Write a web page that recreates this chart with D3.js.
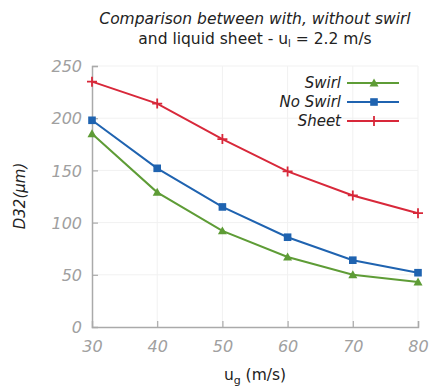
<!DOCTYPE html>
<html>
<head>
<meta charset="utf-8">
<script src="https://cdn.jsdelivr.net/npm/d3@7"></script>
<style>
  html, body { margin: 0; padding: 0; background: #fff; }
  svg { display: block; font-family: "DejaVu Sans", sans-serif; }
</style>
</head>
<body>
<svg id="chart" width="430" height="392"></svg>
<script>
// Gas velocity (m/s) on the x axis
const ugValues = [30, 40, 50, 60, 70, 80];
// Sauter mean diameter D32 (µm) per configuration
const swirl   = [185, 129, 92, 67, 50, 43];
const noSwirl = [198, 152, 115, 86, 64, 52];
const sheet   = [235, 214, 180, 149, 126, 109];
const xTicks = [30, 40, 50, 60, 70, 80];
const yTicks = [0, 50, 100, 150, 200, 250];

const seriesNames = ["Swirl", "No Swirl", "Sheet"];
const seriesColors = ["#5e9c36", "#1f63b0", "#d8283a"];
const seriesMarkers = ["triangle", "square", "plus"];
const seriesValues = [swirl, noSwirl, sheet];

const svg = d3.select("#chart");
const margin = { left: 92, right: 12, top: 66, bottom: 65 };
const W = 430, H = 392;

const x = d3.scaleLinear().domain([30, 80]).range([margin.left, W - margin.right]);
const y = d3.scaleLinear().domain([0, 250]).range([H - margin.bottom, margin.top]);

// faint grid
const grid = svg.append("g").attr("stroke", "#f1f1f1").attr("stroke-width", 1);
xTicks.slice(1).forEach(t => grid.append("line")
  .attr("x1", x(t)).attr("x2", x(t)).attr("y1", y(0)).attr("y2", y(250)));
yTicks.slice(1).forEach(t => grid.append("line")
  .attr("x1", x(30)).attr("x2", x(80)).attr("y1", y(t)).attr("y2", y(t)));

// axes with inward ticks
const axisColor = "#aaaaaa";
const xAxis = svg.append("g").attr("transform", `translate(0,${y(0)})`)
  .call(d3.axisBottom(x).tickValues(xTicks).tickSize(-6).tickPadding(14).tickFormat(d3.format("d")));
const yAxis = svg.append("g").attr("transform", `translate(${x(30)},0)`)
  .call(d3.axisLeft(y).tickValues(yTicks).tickSize(-6).tickPadding(10).tickFormat(d3.format("d")));
[xAxis, yAxis].forEach(a => {
  a.select(".domain").attr("stroke", axisColor).attr("stroke-width", 1.5);
  a.selectAll(".tick line").attr("stroke", axisColor).attr("stroke-width", 1.2);
  a.selectAll(".tick text").attr("fill", "#a0a0a0").attr("font-size", 16)
    .attr("font-style", "italic").attr("font-family", "DejaVu Sans, sans-serif");
});
xAxis.select(".tick:first-of-type line").remove();
yAxis.select(".tick:first-of-type line").remove();
yAxis.selectAll(".tick text").attr("dy", "0.35em");

// marker drawing
function drawMarker(g, type, cx, cy, color) {
  if (type === "triangle") {
    const s = 4.5;
    g.append("path").attr("d", `M${cx},${cy - s}L${cx + s},${cy + s * 0.75}L${cx - s},${cy + s * 0.75}Z`)
      .attr("fill", color);
  } else if (type === "square") {
    g.append("rect").attr("x", cx - 3.8).attr("y", cy - 3.8).attr("width", 7.6).attr("height", 7.6)
      .attr("fill", color);
  } else {
    g.append("path").attr("d", `M${cx - 5},${cy}H${cx + 5}M${cx},${cy - 5}V${cy + 5}`)
      .attr("stroke", color).attr("stroke-width", 1.8);
  }
}

const line = d3.line().x((d, i) => x(ugValues[i])).y(d => y(d));
seriesValues.forEach((vals, k) => {
  const g = svg.append("g");
  g.append("path").datum(vals).attr("d", line).attr("fill", "none")
    .attr("stroke", seriesColors[k]).attr("stroke-width", 2);
  vals.forEach((v, i) => drawMarker(g, seriesMarkers[k], x(ugValues[i]), y(v), seriesColors[k]));
});

// legend
const legend = svg.append("g");
seriesNames.forEach((name, k) => {
  const ly = 83 + k * 19;
  legend.append("text").attr("x", 341).attr("y", ly).attr("dy", "0.35em")
    .attr("text-anchor", "end").attr("font-size", 15).attr("font-style", "italic")
    .attr("fill", "#222").text(name);
  legend.append("line").attr("x1", 347).attr("x2", 399).attr("y1", ly).attr("y2", ly)
    .attr("stroke", seriesColors[k]).attr("stroke-width", 2);
  drawMarker(legend, seriesMarkers[k], 374, ly, seriesColors[k]);
});

// title
const title = svg.append("text").attr("x", 255).attr("text-anchor", "middle")
  .attr("font-size", 15.5).attr("fill", "#222");
title.append("tspan").attr("x", 255).attr("y", 24).attr("font-style", "italic")
  .text("Comparison between with, without swirl");
const t2 = title.append("tspan").attr("x", 255).attr("y", 44).text("and liquid sheet - u");
t2.append("tspan").attr("font-size", 10).attr("dy", 3).text("l");
title.append("tspan").attr("dy", -3).text(" = 2.2 m/s");

// axis titles
const xl = svg.append("text").attr("x", 255).attr("y", 380).attr("text-anchor", "middle")
  .attr("font-size", 15.5).attr("fill", "#222").text("u");
xl.append("tspan").attr("font-size", 11).attr("dy", 4).text("g");
xl.append("tspan").attr("dy", -4).text(" (m/s)");

svg.append("text").attr("transform", `translate(20,196) rotate(-90)`)
  .attr("text-anchor", "middle").attr("dy", "0.35em").attr("font-size", 15)
  .attr("font-style", "italic").attr("fill", "#222").text("D32(μm)");
</script>
</body>
</html>
